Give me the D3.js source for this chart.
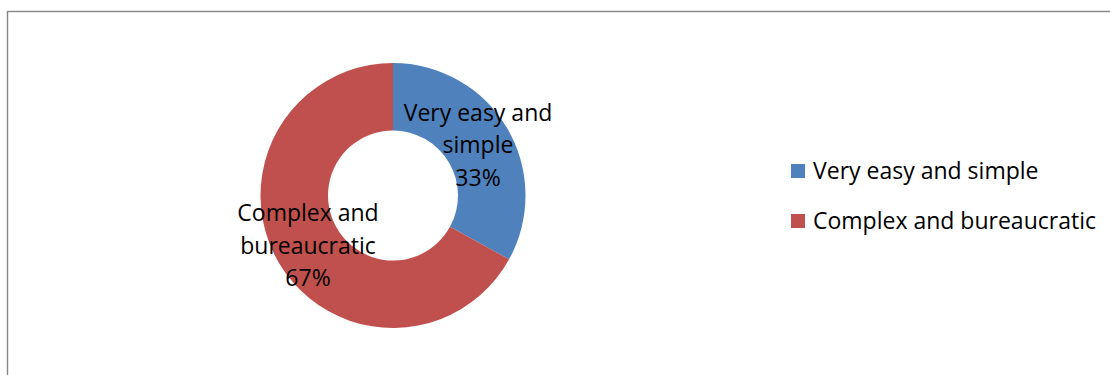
<!DOCTYPE html>
<html>
<head>
<meta charset="utf-8">
<script src="https://cdn.jsdelivr.net/npm/d3@7"></script>
<style>
  html, body { margin: 0; padding: 0; background: #fff; }
  svg { display: block; font-family: "Open Sans", sans-serif; }
</style>
</head>
<body>
<div id="chart"></div>
<script>
const categories = ["Very easy and simple", "Complex and bureaucratic"];
const values = [33, 67];
const labelLines = [["Very easy and", "simple"], ["Complex and", "bureaucratic"]];
const colors = ["#4F81BD", "#C0504D"];

const width = 1110, height = 375;
const cx = 393, cy = 195.5,
      outerR = 132.5, innerR = 65;

let svg = d3.select("#chart").append("svg")
      .attr("width", width)
      .attr("height", height);

// chart frame (right/bottom edges fall outside the picture)
svg.append("rect")
  .attr("x", 7.5).attr("y", 11.5)
  .attr("width", width + 20).attr("height", height + 20)
  .attr("fill", "none")
  .attr("stroke", "#868686")
  .attr("stroke-width", 1.4);

let total = d3.sum(values);
let color = d3.scaleOrdinal().domain(categories).range(colors);

let pie = d3.pie().sort(null).value(d => d.value);
let arcs = pie(categories.map((c, i) => ({ name: c, value: values[i], lines: labelLines[i] })));

let path = d3.arc().innerRadius(innerR).outerRadius(outerR);
let mid = d3.arc().innerRadius(innerR).outerRadius(outerR);

let g = svg.append("g").attr("transform", "translate(" + cx + "," + cy + ")");

g.selectAll("path.slice")
  .data(arcs)
  .enter().append("path")
    .attr("class", "slice")
    .attr("d", path)
    .attr("fill", d => color(d.data.name));

const lineH = 32.5;
let labels = g.selectAll("text.lbl")
  .data(arcs)
  .enter().append("text")
    .attr("class", "lbl")
    .attr("text-anchor", "middle")
    .attr("font-size", 23)
    .attr("fill", "#000");

labels.each(function (d) {
  let c = mid.centroid(d);
  let lines = d.data.lines.concat([Math.round(d.data.value / total * 100) + "%"]);
  let t = d3.select(this);
  lines.forEach((s, i) => {
    t.append("tspan")
      .attr("x", c[0])
      .attr("y", c[1] + (i - (lines.length - 1) / 2) * lineH + 8)
      .text(s);
  });
});

// legend
let ly = d3.scalePoint().domain(categories).range([171, 221]);
let legend = svg.selectAll("g.legend")
  .data(categories)
  .enter().append("g")
    .attr("class", "legend")
    .attr("transform", d => "translate(791," + ly(d) + ")");

legend.append("rect")
  .attr("x", 0).attr("y", -7)
  .attr("width", 14).attr("height", 14)
  .attr("fill", d => color(d));

legend.append("text")
  .attr("x", 22)
  .attr("y", 8)
  .attr("font-size", 23)
  .attr("fill", "#000")
  .text(d => d);
</script>
</body>
</html>
